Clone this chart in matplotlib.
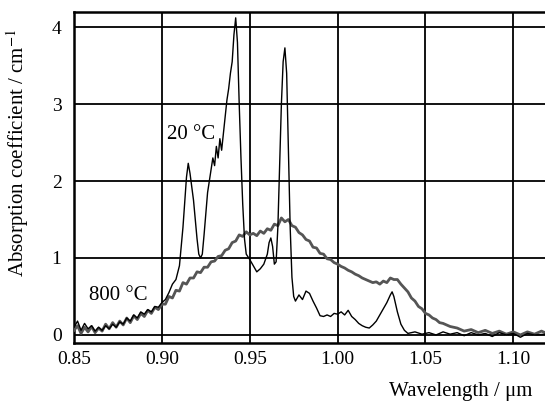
import numpy as np
import matplotlib.pyplot as plt

plt.rcParams['font.family'] = ['Liberation Serif', 'DejaVu Serif']
plt.rcParams['mathtext.fontset'] = 'stix'

# 800 C spectrum (broad band)
x_hot = [0.850, 0.852, 0.854, 0.856, 0.858, 0.860, 0.862, 0.864, 0.866, 0.868,
         0.870, 0.872, 0.874, 0.876, 0.878, 0.880, 0.882, 0.884, 0.886, 0.888,
         0.890, 0.892, 0.894, 0.896, 0.898, 0.900, 0.902, 0.904, 0.906, 0.908,
         0.910, 0.912, 0.914, 0.916, 0.918, 0.920, 0.922, 0.924, 0.926, 0.928,
         0.930, 0.932, 0.934, 0.936, 0.938, 0.940, 0.942, 0.944, 0.946, 0.948,
         0.950, 0.952, 0.954, 0.956, 0.958, 0.960, 0.962, 0.964, 0.966, 0.968,
         0.970, 0.972, 0.974, 0.976, 0.978, 0.980, 0.982, 0.984, 0.986, 0.988,
         0.990, 0.992, 0.994, 0.996, 0.998, 1.000, 1.002, 1.004, 1.006, 1.008,
         1.010, 1.012, 1.014, 1.016, 1.018, 1.020, 1.022, 1.024, 1.026, 1.028,
         1.030, 1.032, 1.034, 1.036, 1.038, 1.040, 1.042, 1.044, 1.046, 1.048,
         1.050, 1.052, 1.054, 1.056, 1.058, 1.060, 1.064, 1.068, 1.072, 1.076,
         1.080, 1.084, 1.088, 1.092, 1.096, 1.100, 1.104, 1.108, 1.112, 1.116, 1.118]
y_hot = [0.06, 0.12, 0.02, 0.10, 0.04, 0.11, 0.03, 0.09, 0.05, 0.14,
         0.08, 0.16, 0.10, 0.18, 0.13, 0.22, 0.16, 0.25, 0.20, 0.28,
         0.24, 0.32, 0.28, 0.36, 0.33, 0.40, 0.40, 0.50, 0.48, 0.58,
         0.57, 0.68, 0.66, 0.74, 0.74, 0.82, 0.81, 0.88, 0.88, 0.95,
         0.96, 1.02, 1.03, 1.10, 1.12, 1.20, 1.22, 1.30, 1.28, 1.34,
         1.30, 1.32, 1.29, 1.35, 1.32, 1.38, 1.36, 1.44, 1.42, 1.52,
         1.47, 1.50, 1.42, 1.40, 1.33, 1.30, 1.24, 1.22, 1.14, 1.13,
         1.06, 1.05, 0.99, 0.98, 0.94, 0.92, 0.89, 0.87, 0.84, 0.82,
         0.79, 0.77, 0.74, 0.72, 0.70, 0.68, 0.69, 0.66, 0.70, 0.68,
         0.74, 0.72, 0.72, 0.66, 0.61, 0.56, 0.48, 0.44, 0.37, 0.34,
         0.28, 0.26, 0.22, 0.20, 0.16, 0.15, 0.11, 0.09, 0.05, 0.07,
         0.03, 0.06, 0.02, 0.05, 0.01, 0.04, 0.00, 0.04, 0.01, 0.05, 0.03]

# 20 C spectrum (sharp peaks)
x_cold = [0.850, 0.852, 0.854, 0.856, 0.858, 0.860, 0.862, 0.864, 0.866, 0.868,
          0.870, 0.872, 0.874, 0.876, 0.878, 0.880, 0.882, 0.884, 0.886, 0.888,
          0.890, 0.892, 0.894, 0.896, 0.898, 0.900, 0.902, 0.904, 0.906, 0.908,
          0.910, 0.912, 0.914, 0.915, 0.916, 0.918, 0.920, 0.921, 0.922, 0.923,
          0.924, 0.926, 0.928, 0.929, 0.930, 0.931, 0.932, 0.933, 0.934, 0.935,
          0.936, 0.937, 0.938, 0.939, 0.940, 0.941, 0.942, 0.943, 0.944, 0.945,
          0.946, 0.947, 0.948, 0.950, 0.952, 0.954, 0.956, 0.958, 0.960, 0.961,
          0.962, 0.963, 0.964, 0.965, 0.966, 0.967, 0.968, 0.969, 0.970, 0.971,
          0.972, 0.973, 0.974, 0.975, 0.976, 0.978, 0.980, 0.982, 0.984, 0.986,
          0.988, 0.990, 0.992, 0.994, 0.996, 0.998, 1.000, 1.002, 1.004, 1.006,
          1.008, 1.010, 1.012, 1.014, 1.016, 1.018, 1.020, 1.022, 1.024, 1.026,
          1.028, 1.030, 1.031, 1.032, 1.034, 1.036, 1.038, 1.040, 1.044, 1.048,
          1.052, 1.056, 1.060, 1.064, 1.068, 1.072, 1.076, 1.080, 1.084, 1.088,
          1.092, 1.096, 1.100, 1.104, 1.108, 1.112, 1.118]
y_cold = [0.10, 0.18, 0.06, 0.15, 0.08, 0.12, 0.05, 0.10, 0.06, 0.12,
          0.08, 0.14, 0.10, 0.17, 0.14, 0.22, 0.18, 0.26, 0.22, 0.30,
          0.27, 0.33, 0.30, 0.37, 0.36, 0.42, 0.46, 0.55, 0.66, 0.72,
          0.90, 1.40, 2.05, 2.23, 2.10, 1.75, 1.25, 1.05, 1.00, 1.05,
          1.30, 1.85, 2.15, 2.30, 2.20, 2.45, 2.30, 2.55, 2.40, 2.62,
          2.85, 3.05, 3.20, 3.40, 3.55, 3.90, 4.12, 3.80, 3.00, 2.30,
          1.70, 1.25, 1.05, 0.98, 0.90, 0.82, 0.86, 0.92, 1.05, 1.20,
          1.26, 1.15, 0.92, 0.95, 1.40, 2.20, 3.00, 3.55, 3.73, 3.40,
          2.40, 1.40, 0.75, 0.50, 0.44, 0.52, 0.46, 0.57, 0.54, 0.44,
          0.35, 0.25, 0.24, 0.26, 0.24, 0.28, 0.27, 0.30, 0.26, 0.32,
          0.24, 0.20, 0.15, 0.12, 0.10, 0.09, 0.13, 0.18, 0.26, 0.34,
          0.42, 0.52, 0.56, 0.50, 0.30, 0.14, 0.06, 0.02, 0.04, 0.01,
          0.03, 0.00, 0.04, 0.01, 0.03, -0.01, 0.03, 0.00, 0.02, -0.02,
          0.03, 0.00, 0.02, -0.03, 0.02, 0.00, 0.01]

x_ticks = [0.85, 0.90, 0.95, 1.00, 1.05, 1.10]
y_ticks = [0, 1, 2, 3, 4]

fig = plt.figure(figsize=(5.45, 4.03), dpi=100)
ax = fig.add_axes([0.1358, 0.149, 0.8642, 0.821])

ax.plot(x_hot, y_hot, color='#555555', lw=2.0, zorder=3)
ax.plot(x_cold, y_cold, color='black', lw=1.0, zorder=4)

ax.set_xlim(0.85, 1.118)
ax.set_ylim(-0.104, 4.195)
ax.set_xticks(x_ticks)
ax.set_xticklabels([f"{t:.2f}" for t in x_ticks])
ax.set_yticks(y_ticks)
ax.tick_params(length=0, labelsize=14)
ax.tick_params(axis='x', pad=6)
ax.tick_params(axis='y', pad=9)
ax.grid(True, color='black', lw=1.3)
ax.set_axisbelow(True)
for s in ['left', 'top', 'bottom']:
    ax.spines[s].set_linewidth(1.8)
ax.spines['right'].set_visible(False)

ax.text(0.903, 2.6, "20 °C", fontsize=15, va='center', ha='left')
ax.text(0.8585, 0.51, "800 °C", fontsize=15, va='center', ha='left')

ax.set_ylabel(r"Absorption coefficient / cm$^{-1}$", fontsize=15)
ax.yaxis.set_label_coords(-0.092, 0.575)
ax.text(0.82, -0.148, "Wavelength / μm", fontsize=15, transform=ax.transAxes,
        ha='center', va='center')

fig.savefig("out.png", dpi=100)
